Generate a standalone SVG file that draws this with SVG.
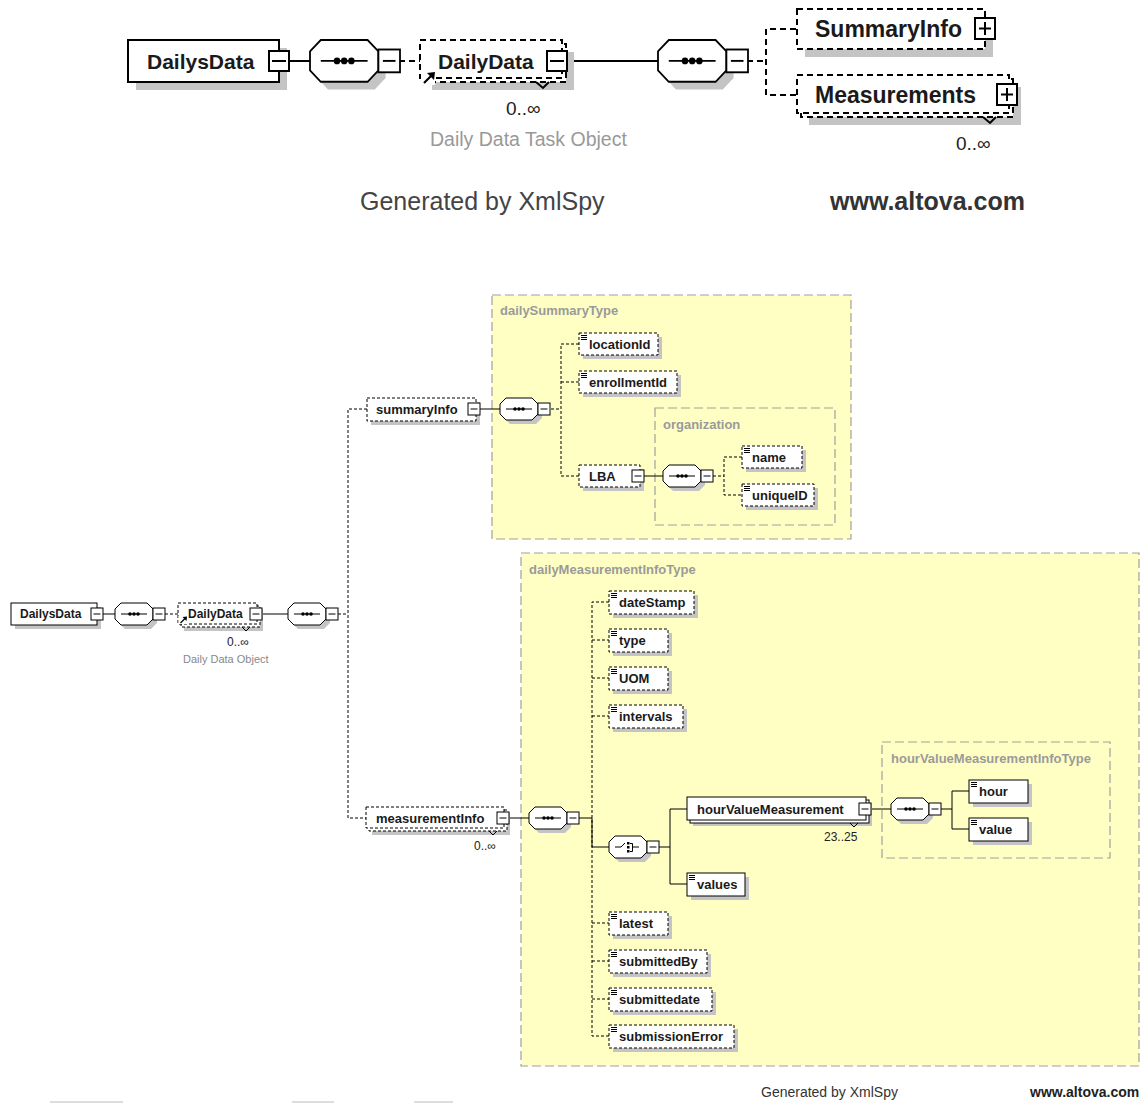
<svg xmlns="http://www.w3.org/2000/svg" xmlns:xlink="http://www.w3.org/1999/xlink" width="1143" height="1103" viewBox="0 0 1143 1103">
<style>
.sh{fill:#c4c4c4;stroke:none}
.bx{fill:#fff;stroke:#000;stroke-width:1}
.dbx{fill:#fff;stroke:#000;stroke-width:1;stroke-dasharray:3 2}
.oct{fill:#fff;stroke:#000;stroke-width:1}
.ln{stroke:#000;stroke-width:1;fill:none}
.dl{stroke:#000;stroke-width:1;fill:none;stroke-dasharray:3 2}
.tl{stroke:#000;stroke-width:2;fill:none}
.tdl{stroke:#000;stroke-width:2;fill:none;stroke-dasharray:6 4}
.tbx{fill:#fff;stroke:#000;stroke-width:2}
.tdbx{fill:#fff;stroke:#000;stroke-width:2;stroke-dasharray:6 4}
.type{fill:#ffffc4;stroke:#a0a0a0;stroke-width:1.2;stroke-dasharray:9 4}
.grp{fill:none;stroke:#a0a0a0;stroke-width:1.2;stroke-dasharray:9 4}
.tlab{font-family:"Liberation Sans",Arial,sans-serif;font-weight:bold;font-size:13px;fill:#9a9a9a}
.el{font-family:"Liberation Sans",Arial,sans-serif;font-weight:bold;font-size:13px;fill:#1a1a1a}
.elS{font-family:"Liberation Sans",Arial,sans-serif;font-weight:bold;font-size:12px;fill:#1a1a1a}
.big{font-family:"Liberation Sans",Arial,sans-serif;font-weight:bold;font-size:21px;fill:#1a1a1a}
.big2{font-family:"Liberation Sans",Arial,sans-serif;font-weight:bold;font-size:23px;fill:#1a1a1a}
.occ{font-family:"Liberation Sans",Arial,sans-serif;font-size:12px;fill:#222}
.occB{font-family:"Liberation Sans",Arial,sans-serif;font-size:19px;fill:#222}
.ann{font-family:"Liberation Sans",Arial,sans-serif;font-size:11px;fill:#888}
.annB{font-family:"Liberation Sans",Arial,sans-serif;font-size:19.5px;fill:#999}
.gen{font-family:"Liberation Sans",Arial,sans-serif;font-size:25px;fill:#444}
.genB{font-family:"Liberation Sans",Arial,sans-serif;font-size:25px;font-weight:bold;fill:#333}
.gen2{font-family:"Liberation Sans",Arial,sans-serif;font-size:14px;fill:#333}
.gen2B{font-family:"Liberation Sans",Arial,sans-serif;font-size:14px;font-weight:bold;fill:#222}
.ic{stroke:#000;stroke-width:1;fill:none}
</style>
<defs>
  <g id="seq">
    <polygon class="sh" points="10,4 36,4 42,10 42,20 36,26 10,26 4,20 4,10"/>
    <polygon class="oct" points="6,0 32,0 38,6 38,16 32,22 6,22 0,16 0,6"/>
    <line class="ln" x1="6" y1="11" x2="32" y2="11"/>
    <circle cx="15" cy="11" r="1.8"/>
    <circle cx="19" cy="11" r="1.8"/>
    <circle cx="23" cy="11" r="1.8"/>
    <rect class="bx" x="38" y="5" width="12" height="12"/>
    <line class="ln" x1="40.5" y1="11" x2="47.5" y2="11"/>
  </g>
  <g id="cho">
    <polygon class="sh" points="10,4 36,4 42,10 42,20 36,26 10,26 4,20 4,10"/>
    <polygon class="oct" points="6,0 32,0 38,6 38,16 32,22 6,22 0,16 0,6"/>
    <path class="ln" d="M6,11 H12 L16,7"/>
    <rect x="18" y="6" width="2.5" height="2.5"/>
    <rect x="18" y="10" width="2.5" height="2.5"/>
    <rect x="18" y="14" width="2.5" height="2.5"/>
    <path class="ln" d="M21,7.5 H23.5 V15.5 H21 M23.5,11 H30"/>
    <rect class="bx" x="38" y="5" width="12" height="12"/>
    <line class="ln" x1="40.5" y1="11" x2="47.5" y2="11"/>
  </g>
  <path id="ico" class="ic" d="M2,2.5 H8 M2,4.5 H8 M2,6.5 H8"/>
  <g id="minus">
    <rect class="bx" x="0" y="0" width="12" height="12"/>
    <line class="ln" x1="2.5" y1="6" x2="9.5" y2="6"/>
  </g>
</defs>

<!-- ================= TOP OVERVIEW ================= -->
<g id="top-connectors">
  <line class="tl" x1="289" y1="61" x2="311" y2="61"/>
  <line class="tdl" x1="399" y1="61" x2="420" y2="61"/>
  <line class="tl" x1="567" y1="61" x2="659" y2="61"/>
  <path class="tdl" d="M747,61 H766 M796,29 H766 V95 H796"/>
</g>
<g id="top-DailysData">
  <rect class="sh" x="136" y="48" width="151" height="42"/>
  <rect class="tbx" x="128" y="40" width="151" height="42"/>
  <text class="big" x="147" y="69">DailysData</text>
  <rect class="tbx" x="269" y="51" width="20" height="20"/>
  <line class="tl" x1="272" y1="61" x2="286" y2="61"/>
</g>
<g id="top-seq1">
  <use xlink:href="#seq" href="#seq" transform="translate(310,40) scale(1.8,1.9)"/>
</g>
<g id="top-DailyData">
  <rect class="sh" x="432" y="52" width="142" height="38"/>
  <rect class="tdbx" x="424" y="44" width="142" height="38"/>
  <rect class="tdbx" x="420" y="40" width="142" height="38"/>
  <text class="big" x="438" y="69">DailyData</text>
  <rect x="421" y="71" width="14" height="14" fill="#fff"/>
  <path d="M424,83 L431,76" stroke="#000" stroke-width="2.2"/>
  <polygon points="435,72 434,80 427,73"/>
  <path class="tl" d="M536,82 L543,88 L549,82" stroke-width="1.5"/>
  <rect class="tbx" x="547" y="51" width="20" height="20"/>
  <line class="tl" x1="550" y1="61" x2="564" y2="61"/>
  <text class="occB" x="506" y="115">0..∞</text>
  <text class="annB" x="430" y="146">Daily Data Task Object</text>
</g>
<g id="top-seq2">
  <use xlink:href="#seq" href="#seq" transform="translate(658,40) scale(1.8,1.9)"/>
</g>
<g id="top-SummaryInfo">
  <rect class="sh" x="805" y="17" width="188" height="40"/>
  <rect class="tdbx" x="797" y="9" width="188" height="40"/>
  <text class="big2" x="815" y="37">SummaryInfo</text>
  <rect class="tbx" x="975" y="18" width="20" height="21"/>
  <path class="tl" d="M979,28.5 H991 M985,22 V35"/>
</g>
<g id="top-Measurements">
  <rect class="sh" x="809" y="87" width="212" height="38"/>
  <rect class="tdbx" x="801" y="79" width="212" height="38"/>
  <rect class="tdbx" x="797" y="75" width="212" height="38"/>
  <text class="big2" x="815" y="103">Measurements</text>
  <rect class="tbx" x="997" y="84" width="20" height="21"/>
  <path class="tl" d="M1001,94.5 H1013 M1007,88 V101"/>
  <path class="tl" d="M983,117 L990,123 L996,117" stroke-width="1.5"/>
  <text class="occB" x="956" y="150">0..∞</text>
</g>
<g id="top-footer">
  <text class="gen" x="360" y="210">Generated by XmlSpy</text>
  <text class="genB" x="830" y="210">www.altova.com</text>
</g>

<!-- ================= DETAILED DIAGRAM ================= -->
<g id="type-dailySummaryType">
  <rect class="type" x="492" y="295" width="359" height="244"/>
  <text class="tlab" x="500" y="315">dailySummaryType</text>
</g>
<g id="type-dailyMeasurementInfoType">
  <rect class="type" x="521" y="553" width="618" height="513"/>
  <text class="tlab" x="529" y="574">dailyMeasurementInfoType</text>
</g>
<g id="group-organization">
  <rect class="grp" x="655" y="408" width="180" height="117"/>
  <text class="tlab" x="663" y="429">organization</text>
</g>
<g id="type-hourValueMeasurementInfoType">
  <rect class="grp" x="882" y="742" width="228" height="116"/>
  <text class="tlab" x="891" y="763">hourValueMeasurementInfoType</text>
</g>

<g id="connectors">
  <line class="ln" x1="103" y1="614" x2="115" y2="614"/>
  <line class="dl" x1="165" y1="614" x2="178" y2="614"/>
  <line class="ln" x1="262" y1="614" x2="288" y2="614"/>
  <path class="dl" d="M338,614 H348 M367,409 H348 V818 H367"/>
  <line class="ln" x1="480" y1="409" x2="500" y2="409"/>
  <path class="dl" d="M551,409 H561 M579,344 H561 V476 H579 M561,382 H579"/>
  <line class="ln" x1="644" y1="476" x2="663" y2="476"/>
  <path class="dl" d="M713,476 H724 M742,457 H724 V495 H742"/>
  <line class="ln" x1="509" y1="818" x2="529" y2="818"/>
  <line class="ln" x1="579" y1="818" x2="592" y2="818"/>
  <path class="dl" d="M609,602 H592 V1036 H609 M592,640 H609 M592,678 H609 M592,716 H609 M592,923 H609 M592,961 H609 M592,999 H609"/>
  <path class="ln" d="M592,818 V847 H609"/>
  <path class="ln" d="M659,847 H670 M687,809 H670 V884 H687"/>
  <line class="ln" x1="871" y1="809" x2="891" y2="809"/>
  <path class="ln" d="M941,809 H952 M969,791 H952 V829 H969"/>
</g>

<g id="DailysData">
  <rect class="sh" x="15" y="607" width="86" height="22"/>
  <rect class="bx" x="11" y="603" width="86" height="22"/>
  <text class="elS" x="20" y="618">DailysData</text>
  <use xlink:href="#minus" href="#minus" x="91" y="608"/>
</g>
<g id="seq-root"><use xlink:href="#seq" href="#seq" x="115" y="603"/></g>
<g id="DailyData">
  <rect class="sh" x="184" y="609" width="79" height="22"/>
  <rect class="dbx" x="181" y="606" width="79" height="21"/>
  <rect class="dbx" x="178" y="603" width="79" height="21"/>
  <text class="elS" x="188" y="618">DailyData</text>
  <rect x="178.5" y="616" width="9" height="8" fill="#fff"/>
  <path d="M180.5,623 L185,618.5" stroke="#000" stroke-width="1.3"/>
  <polygon points="187,616.5 186.5,621 182.5,617"/>
  <path class="ln" d="M242,627 L246,631 L250,627"/>
  <use xlink:href="#minus" href="#minus" x="250" y="608"/>
  <text class="occ" x="227" y="646">0..∞</text>
  <text class="ann" x="183" y="663">Daily Data Object</text>
</g>
<g id="seq-DailyData"><use xlink:href="#seq" href="#seq" x="288" y="603"/></g>

<g id="summaryInfo">
  <rect class="sh" x="371" y="402" width="109" height="23"/>
  <rect class="dbx" x="367" y="398" width="109" height="23"/>
  <text class="el" x="376" y="414">summaryInfo</text>
  <use xlink:href="#minus" href="#minus" x="468" y="403"/>
</g>
<g id="seq-summary"><use xlink:href="#seq" href="#seq" x="500" y="398"/></g>
<g id="locationId">
  <rect class="sh" x="583" y="337" width="79" height="22"/>
  <rect class="dbx" x="579" y="333" width="79" height="22"/>
  <use xlink:href="#ico" href="#ico" x="579" y="333"/>
  <text class="el" x="589" y="349">locationId</text>
</g>
<g id="enrollmentId">
  <rect class="sh" x="583" y="375" width="98" height="22"/>
  <rect class="dbx" x="579" y="371" width="98" height="22"/>
  <use xlink:href="#ico" href="#ico" x="579" y="371"/>
  <text class="el" x="589" y="387">enrollmentId</text>
</g>
<g id="LBA">
  <rect class="sh" x="583" y="469" width="61" height="22"/>
  <rect class="dbx" x="579" y="465" width="61" height="22"/>
  <text class="el" x="589" y="481">LBA</text>
  <use xlink:href="#minus" href="#minus" x="632" y="470"/>
</g>
<g id="seq-organization"><use xlink:href="#seq" href="#seq" x="663" y="465"/></g>
<g id="name">
  <rect class="sh" x="746" y="450" width="60" height="22"/>
  <rect class="dbx" x="742" y="446" width="60" height="22"/>
  <use xlink:href="#ico" href="#ico" x="742" y="446"/>
  <text class="el" x="752" y="462">name</text>
</g>
<g id="uniqueID">
  <rect class="sh" x="746" y="488" width="72" height="22"/>
  <rect class="dbx" x="742" y="484" width="72" height="22"/>
  <use xlink:href="#ico" href="#ico" x="742" y="484"/>
  <text class="el" x="752" y="500">uniqueID</text>
</g>

<g id="measurementInfo">
  <rect class="sh" x="372" y="813" width="138" height="22"/>
  <rect class="dbx" x="369" y="810" width="138" height="21"/>
  <rect class="dbx" x="366" y="807" width="138" height="21"/>
  <text class="el" x="376" y="823">measurementInfo</text>
  <path class="ln" d="M489,831 L493,835 L497,831"/>
  <use xlink:href="#minus" href="#minus" x="497" y="812"/>
  <text class="occ" x="474" y="850">0..∞</text>
</g>
<g id="seq-measurement"><use xlink:href="#seq" href="#seq" x="529" y="807"/></g>
<g id="dateStamp">
  <rect class="sh" x="613" y="595" width="85" height="23"/>
  <rect class="dbx" x="609" y="591" width="85" height="23"/>
  <use xlink:href="#ico" href="#ico" x="609" y="591"/>
  <text class="el" x="619" y="607">dateStamp</text>
</g>
<g id="type">
  <rect class="sh" x="613" y="633" width="59" height="23"/>
  <rect class="dbx" x="609" y="629" width="59" height="23"/>
  <use xlink:href="#ico" href="#ico" x="609" y="629"/>
  <text class="el" x="619" y="645">type</text>
</g>
<g id="UOM">
  <rect class="sh" x="613" y="671" width="59" height="23"/>
  <rect class="dbx" x="609" y="667" width="59" height="23"/>
  <use xlink:href="#ico" href="#ico" x="609" y="667"/>
  <text class="el" x="619" y="683">UOM</text>
</g>
<g id="intervals">
  <rect class="sh" x="613" y="709" width="74" height="23"/>
  <rect class="dbx" x="609" y="705" width="74" height="23"/>
  <use xlink:href="#ico" href="#ico" x="609" y="705"/>
  <text class="el" x="619" y="721">intervals</text>
</g>
<g id="choice"><use xlink:href="#cho" href="#cho" x="609" y="836"/></g>
<g id="hourValueMeasurement">
  <rect class="sh" x="693" y="803" width="179" height="23"/>
  <rect class="bx" x="690" y="800" width="179" height="23"/>
  <rect class="bx" x="687" y="797" width="179" height="23"/>
  <text class="el" x="697" y="814">hourValueMeasurement</text>
  <path class="ln" d="M850,823 L854,827 L858,823"/>
  <use xlink:href="#minus" href="#minus" x="859" y="803"/>
  <text class="occ" x="824" y="841">23..25</text>
</g>
<g id="seq-hourValue"><use xlink:href="#seq" href="#seq" x="891" y="798"/></g>
<g id="hour">
  <rect class="sh" x="973" y="784" width="59" height="23"/>
  <rect class="bx" x="969" y="780" width="59" height="23"/>
  <use xlink:href="#ico" href="#ico" x="969" y="780"/>
  <text class="el" x="979" y="796">hour</text>
</g>
<g id="value">
  <rect class="sh" x="973" y="822" width="59" height="23"/>
  <rect class="bx" x="969" y="818" width="59" height="23"/>
  <use xlink:href="#ico" href="#ico" x="969" y="818"/>
  <text class="el" x="979" y="834">value</text>
</g>
<g id="values">
  <rect class="sh" x="691" y="877" width="58" height="23"/>
  <rect class="bx" x="687" y="873" width="58" height="23"/>
  <use xlink:href="#ico" href="#ico" x="687" y="873"/>
  <text class="el" x="697" y="889">values</text>
</g>
<g id="latest">
  <rect class="sh" x="613" y="916" width="59" height="23"/>
  <rect class="dbx" x="609" y="912" width="59" height="23"/>
  <use xlink:href="#ico" href="#ico" x="609" y="912"/>
  <text class="el" x="619" y="928">latest</text>
</g>
<g id="submittedBy">
  <rect class="sh" x="613" y="954" width="98" height="23"/>
  <rect class="dbx" x="609" y="950" width="98" height="23"/>
  <use xlink:href="#ico" href="#ico" x="609" y="950"/>
  <text class="el" x="619" y="966">submittedBy</text>
</g>
<g id="submittedate">
  <rect class="sh" x="613" y="992" width="103" height="23"/>
  <rect class="dbx" x="609" y="988" width="103" height="23"/>
  <use xlink:href="#ico" href="#ico" x="609" y="988"/>
  <text class="el" x="619" y="1004">submittedate</text>
</g>
<g id="submissionError">
  <rect class="sh" x="613" y="1029" width="125" height="23"/>
  <rect class="dbx" x="609" y="1025" width="125" height="23"/>
  <use xlink:href="#ico" href="#ico" x="609" y="1025"/>
  <text class="el" x="619" y="1041">submissionError</text>
</g>

<g id="footer">
  <text class="gen2" x="761" y="1097">Generated by XmlSpy</text>
  <text class="gen2B" x="1030" y="1097">www.altova.com</text>
  <rect x="50" y="1101" width="73" height="2" fill="#dddddd"/>
  <rect x="292" y="1101" width="42" height="2" fill="#dddddd"/>
  <rect x="414" y="1101" width="39" height="2" fill="#dddddd"/>
</g>
</svg>
